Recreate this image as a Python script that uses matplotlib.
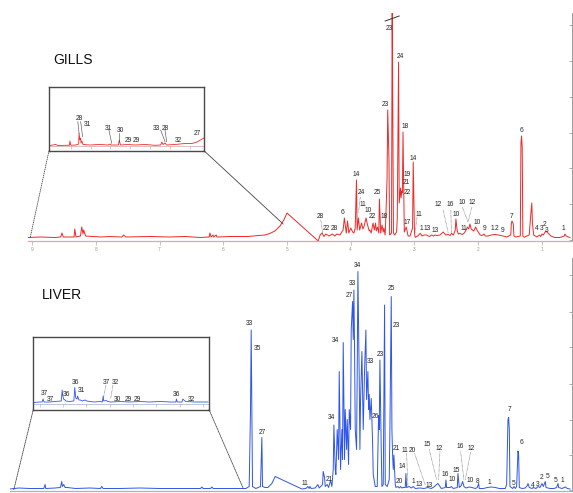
import matplotlib
matplotlib.use("Agg")
import matplotlib.pyplot as plt
from matplotlib.patches import ConnectionPatch

plt.rcParams['font.family'] = ['Liberation Sans', 'DejaVu Sans']

W, H = 573, 493

# ---------------- GILLS spectrum (ppm, intensity) ----------------
gills_ppm = [9.06, 8.87, 8.64, 8.55, 8.53, 8.51, 8.34, 8.33, 8.31, 8.24, 8.22, 8.20, 8.19, 8.16,
             7.93, 7.78, 7.59, 7.56, 7.53, 7.15, 6.84, 6.60, 6.36, 6.22, 6.21, 6.19, 6.16, 6.15,
             6.11, 6.10, 5.89, 5.61, 5.45, 5.35, 5.27, 5.19, 5.11, 5.05, 5.00, 4.51, 4.48, 4.45,
             4.42, 4.39, 4.34, 4.29, 4.25, 4.22, 4.17, 4.12, 4.10, 4.07, 4.05, 4.03, 4.00, 3.97,
             3.95, 3.93, 3.91, 3.90, 3.88, 3.86, 3.83, 3.81, 3.79, 3.76, 3.74, 3.71, 3.70, 3.68,
             3.65, 3.63, 3.61, 3.60, 3.58, 3.56, 3.55, 3.53, 3.51, 3.49, 3.48, 3.46, 3.45, 3.43,
             3.42, 3.40, 3.39, 3.36, 3.35, 3.33, 3.31, 3.28, 3.27, 3.25, 3.24, 3.22, 3.21, 3.20,
             3.19, 3.18, 3.16, 3.13, 3.10, 3.07, 3.03, 3.02, 3.00, 2.99, 2.95, 2.91, 2.88, 2.85,
             2.81, 2.77, 2.73, 2.70, 2.68, 2.65, 2.60, 2.55, 2.51, 2.47, 2.44, 2.42, 2.39, 2.36,
             2.35, 2.33, 2.31, 2.29, 2.25, 2.22, 2.19, 2.17, 2.15, 2.13, 2.11, 2.09, 2.07, 2.04,
             2.02, 2.00, 1.97, 1.94, 1.91, 1.89, 1.85, 1.80, 1.74, 1.68, 1.61, 1.55, 1.49, 1.48,
             1.47, 1.45, 1.44, 1.41, 1.34, 1.33, 1.32, 1.31, 1.30, 1.28, 1.24, 1.20, 1.18, 1.16,
             1.15, 1.13, 1.08, 1.04, 1.02, 1.00, 0.98, 0.94, 0.90, 0.86, 0.80, 0.72, 0.65, 0.64,
             0.62, 0.56]
gills_int = [0.5, 1, 0.5, 1, 5, 1, 1, 9, 1, 2, 11, 4, 8, 2,
             1, 1.5, 1, 3, 1, 1.5, 1, 1.5, 0.5, 1, 5, 1, 3, 1,
             3, 1, 1.5, 1.5, 2.5, 3, 4.5, 7, 12, 18, 25, -3, 3, 5,
             1.5, 4, 2, 4, 2, 4, 3, 8, 20, 5, 17, 5, 10, 6,
             5, 10, 58, 8, 20, 8, 15, 9, 12, 20, 14, 7, 8, 5,
             15, 8, 15, 7, 11, 5, 39, 5, 13, 6, 10, 3, 20, 60,
             128, 78, 3, 5, 240, 5, 3, 6, 20, 176, 35, 50, 40, 47,
             45, 106, 6, 11, 2, 2, 10, 76, 5, 0.7, 2, 4.7, 2, 3,
             3, 1.5, 3, 2, 3, 2.5, 3, 6, 3, 3.5, 2.5, 4.7, 3, 8,
             19, 7, 4, 4.7, 3.5, 5, 8, 11, 9, 14, 9, 8, 7, 11,
             8, 6, 3, 2.5, 4, 2, 2, 3, 3.5, 3, 2, 1, 3, 15,
             17, 14, 2, 1, 2, 95, 102, 90, 2, 0.7, 2, 3, 20, 35,
             15, 3, 1, 3, 1.5, 4, 3, 7, 4.7, 2, 0.5, 0.5, 2, 4,
             2, 0.3]
gills_yticks = [-2, 34, 70, 105, 141, 177, 213]
gills_xticks = [9, 8, 7, 6, 5, 4, 3, 2, 1]

gills_lab = ['23', '24', '23', '18', '14', '19', '21', '22', '14', '24', '11', '10', '22',
             '25', '18', '6', '28', '22', '28', '17', '11', '1', '13', '13', '12', '16', '10',
             '10', '12', '11', '10', '9', '1', '2', '9', '7', '6', '4', '3', '2', '3', '1']
gills_lab_ppm = [3.40, 3.22, 3.46, 3.15, 3.02, 3.12, 3.12, 3.11, 3.92, 3.84, 3.81, 3.73, 3.66,
                 3.58, 3.48, 4.13, 4.48, 4.39, 4.26, 3.12, 2.93, 2.90, 2.80, 2.67, 2.63, 2.44, 2.34,
                 2.25, 2.09, 2.23, 2.01, 1.90, 1.78, 1.71, 1.62, 1.48, 1.32, 1.08, 1.00, 0.96, 0.92, 0.66]
gills_lab_int = [210, 181, 134, 111, 80, 63, 55, 46, 64, 45, 33, 28, 22,
                 45, 21, 26, 21, 9, 9, 16, 23, 10, 9, 8, 34, 34, 24,
                 35, 36, 10, 16, 10, 9, 9, 8, 22, 107, 9, 10, 13, 8, 9]
gills_leaders = [(2.55, 28, 2.47, 5), (2.43, 28, 2.42, 5), (2.25, 31, 2.16, 16),
                 (2.10, 31, 2.16, 16), (2.96, 21, 2.99, 5), (3.85, 41, 3.88, 25),
                 (4.47, 18, 4.44, 5)]

# GILLS zoomed region (inset)
gz_ppm = [9.52, 9.38, 9.32, 9.03, 9.02, 9.00, 8.87, 8.80, 8.79, 8.77, 8.75, 8.74, 8.72, 8.69,
          8.52, 8.26, 8.06, 8.01, 7.99, 7.80, 7.78, 7.75, 7.56, 7.38, 7.13, 6.88, 6.74, 6.71,
          6.68, 6.63, 6.59, 6.38, 6.13, 5.95, 5.83, 5.74, 5.70, 5.65]
gz_int = [0.5, 1.5, 0.5, 0.8, 5, 0.8, 1, 2, 12.7, 6, 8, 3, 5, 1.5,
          1, 1.5, 1, 2, 1, 1, 6, 1, 1.5, 1, 1.5, 0.7, 1, 4,
          1.5, 3, 1, 1.5, 2.5, 2.5, 4, 6, 7, 8]
gz_ticks = [9.0, 8.5, 8.0, 7.5, 7.0, 6.5, 6.0]
gz_lab = ['28', '31', '31', '30', '29', '29', '33', '28', '32', '27']
gz_lab_ppm = [8.78, 8.58, 8.04, 7.75, 7.54, 7.34, 6.84, 6.62, 6.30, 5.81]
gz_lab_int = [27.7, 21, 17.7, 15, 6, 6, 17.7, 17.7, 5, 12.7]
gz_leaders = [(8.82, 24.3, 8.79, 12.7), (8.75, 24.3, 8.70, 9.3), (8.04, 16, 7.97, 2.7),
              (7.78, 12.7, 7.78, 4.3), (6.74, 16, 6.63, 4.3), (6.63, 16, 6.59, 4.3)]

# ---------------- LIVER spectrum ----------------
liver_ppm = [8.94, 8.80, 8.64, 8.46, 8.43, 8.41, 8.40, 8.26, 8.18, 8.16, 8.15, 8.13, 8.11, 8.08,
             7.95, 7.74, 7.58, 7.56, 7.54, 7.29, 6.99, 6.69, 6.39, 6.08, 6.06, 6.04, 5.93, 5.91,
             5.89, 5.64, 5.40, 5.35, 5.33, 5.32, 5.31, 5.30, 5.25, 5.18, 5.16, 5.15, 5.11, 5.07,
             5.01, 4.96, 4.56, 4.50, 4.47, 4.45, 4.44, 4.42, 4.36, 4.32, 4.30, 4.25, 4.24, 4.22,
             4.21, 4.18, 4.16, 4.13, 4.11, 4.09, 4.08, 4.06, 4.05, 4.03, 4.01, 4.00, 3.98, 3.96,
             3.95, 3.94, 3.92, 3.91, 3.89, 3.88, 3.86, 3.85, 3.83, 3.82, 3.80, 3.79, 3.78, 3.77,
             3.76, 3.74, 3.73, 3.72, 3.70, 3.69, 3.68, 3.66, 3.65, 3.64, 3.62, 3.60, 3.59, 3.57,
             3.56, 3.55, 3.54, 3.52, 3.50, 3.49, 3.46, 3.43, 3.41, 3.40, 3.39, 3.37, 3.36, 3.34,
             3.32, 3.31, 3.28, 3.25, 3.24, 3.22, 3.21, 3.20, 3.19, 3.18, 3.16, 3.15, 3.12, 3.10,
             3.08, 3.06, 3.04, 3.01, 3.00, 2.99, 2.95, 2.92, 2.89, 2.86, 2.79, 2.73, 2.67, 2.62,
             2.58, 2.54, 2.52, 2.50, 2.47, 2.41, 2.40, 2.39, 2.34, 2.32, 2.29, 2.23, 2.22, 2.20,
             2.17, 2.15, 2.13, 2.10, 2.05, 2.01, 1.96, 1.93, 1.91, 1.90, 1.84, 1.78, 1.72, 1.66,
             1.60, 1.51, 1.49, 1.47, 1.46, 1.45, 1.44, 1.40, 1.38, 1.36, 1.34, 1.32, 1.31, 1.30,
             1.26, 1.21, 1.18, 1.17, 1.15, 1.11, 1.09, 1.05, 1.02, 0.99, 0.96, 0.94, 0.91, 0.90,
             0.84, 0.78, 0.74, 0.72, 0.71, 0.66, 0.61, 0.58, 0.54]
liver_int = [0.5, 1.5, 1, 1, 1, 5, 1, 1.5, 2, 8, 3, 5, 2, 2,
             1, 1.5, 1, 3, 1, 1, 1.5, 1, 1, 1, 2.5, 1, 1, 2.5,
             1, 1, 1, 3, 80, 159.5, 80, 3, 1, 3, 52, 3, 2, 2,
             6, 13, 0.5, 1, 3, 1, 3, 1, 1.5, 5, 1.5, 5, 18, 12,
             3, 5, 2, 9, 3, 20, 64.5, 20, 15, 60, 30, 118, 20, 60,
             30, 147, 30, 80, 40, 70, 25, 80, 60, 160, 188, 150, 199.5, 140,
             60, 40, 120, 218, 110, 40, 90, 138, 100, 60, 120, 159.5, 90, 118,
             80, 95, 70, 91, 48, 15, 3, 3, 74, 60, 129.5, 40, 3, 5,
             184.5, 5, 3, 10, 60, 193, 60, 35, 20, 34.5, 5, 2, 3, 1.5,
             3, 1.5, 2, 2, 16, 2, 3, 1.5, 3, 1, 1.5, 1, 2, 1,
             2.5, 5, 6, 4, 1, 2, 9.5, 2, 2, 3, 1, 2, 16, 2,
             4, 8, 3, 1.5, 2.5, 2, 1, 2, 6, 1, 1, 2, 2.5, 2,
             1, 1, 5, 70, 72, 60, 3, 1, 3, 1, 3, 38.5, 35, 2,
             1, 1.5, 4, 6, 2, 1, 2, 1, 3, 2, 6, 3, 8, 2,
             1, 1, 2, 6, 2, 1, 2.5, 1, 0.5]
liver_yticks = [-0.5, 34.5, 69.5, 106, 143, 178, 214.5]

liver_lab = ['33', '35', '27', '11', '21', '34', '34', '27', '33', '34', '33', '23', '26',
             '25', '23', '21', '14', '11', '20', '20', '1', '13', '13', '15', '12', '16',
             '10', '15', '16', '12', '10', '8', '1', '7', '5', '6', '4', '3', '2', '5', '5', '1']
liver_lab_ppm = [5.34, 5.22, 5.16, 4.52, 4.15, 4.12, 4.06, 3.85, 3.80, 3.72, 3.53, 3.39, 3.46,
                 3.22, 3.15, 3.15, 3.05, 3.01, 2.90, 3.10, 2.89, 2.80, 2.65, 2.68, 2.50, 2.41,
                 2.31, 2.24, 2.18, 2.02, 2.04, 1.92, 1.75, 1.44, 1.39, 1.27, 1.10, 1.02, 0.96,
                 0.87, 0.75, 0.65]
liver_lab_int = [165.5, 140.5, 57, 6, 10, 72, 149, 194, 206, 224, 128, 135, 73,
                 201, 164, 41.5, 23, 39, 39, 8, 8, 5, 4, 45, 41.5, 15,
                 10, 19.5, 42.5, 41, 9, 8, 7, 80, 6, 47, 4, 5.5, 12,
                 13, 9.5, 8.5]
liver_leaders = [(2.99, 36.5, 2.97, 2.5), (2.87, 36, 2.71, 4.5), (2.65, 40, 2.54, 9.5),
                 (2.49, 38, 2.51, 9.5), (2.18, 38, 2.13, 9.5), (2.03, 37.5, 2.11, 9.5)]

# LIVER zoomed region (inset)
lz_ppm = [9.13, 9.00, 8.95, 8.93, 8.91, 8.79, 8.68, 8.54, 8.52, 8.51, 8.49, 8.46, 8.44, 8.37,
          8.27, 8.25, 8.23, 8.20, 8.19, 8.16, 8.13, 8.09, 8.03, 7.99, 7.93, 7.82, 7.71, 7.66,
          7.64, 7.63, 7.58, 7.54, 7.48, 7.28, 7.07, 6.85, 6.64, 6.42, 6.21, 6.08, 6.07, 6.05,
          5.95, 5.93, 5.91, 5.87, 5.67, 5.39]
lz_int = [0.5, 1, 1, 4, 1, 1, 1.5, 2, 13, 8, 4, 3, 2, 1.5,
          2, 15.5, 5, 4, 7, 3, 3, 2, 3, 2, 1.5, 1, 1.5, 1,
          7, 2, 2.5, 1.5, 1, 1.5, 1, 1.5, 1, 1.5, 1, 1, 4, 1,
          1, 4, 3, 1.5, 1, 1]
lz_ticks = [9.0, 8.5, 8.0, 7.5, 7.0, 6.5, 6.0, 5.5]
lz_lab = ['37', '37', '36', '36', '31', '37', '32', '30', '29', '29', '36', '32']
lz_lab_ppm = [8.91, 8.77, 8.42, 8.23, 8.10, 7.58, 7.37, 7.34, 7.11, 6.91, 6.06, 5.75]
lz_lab_int = [9.7, 3.7, 8.7, 21, 12.3, 21, 21, 3.7, 3.7, 3.7, 8, 3.7]
lz_leaders = [(7.58, 18, 7.63, 6.3), (7.43, 18, 7.48, 4.7)]

RED = '#f02828'
BLUE = '#2f55ea'
TXT = '#262626'
LAB_SIZE = 4.8

fig = plt.figure(figsize=(W / 100, H / 100), dpi=100)


def px_axes(l, t, r, b):
    return fig.add_axes([l / W, 1 - b / H, (r - l) / W, (b - t) / H])


def style_main(ax, yticks, axis_col):
    ax.patch.set_alpha(0)
    ax.spines['top'].set_visible(False)
    ax.spines['left'].set_visible(False)
    ax.spines['right'].set_color('#8c8c8c')
    ax.spines['right'].set_linewidth(0.6)
    ax.spines['bottom'].set_color(axis_col)
    ax.spines['bottom'].set_linewidth(0.9)
    ax.yaxis.tick_right()
    ax.set_yticks(yticks)
    ax.set_yticklabels([])
    ax.tick_params(axis='y', direction='in', length=2.5, width=0.5, colors='#8c8c8c')


def style_inset(ax):
    ax.patch.set_facecolor('white')
    for s in ax.spines.values():
        s.set_color('#4a4a4a')
        s.set_linewidth(1.0)
    ax.set_xticks([])
    ax.set_yticks([])


def put_labels(ax, labs, xs, ys, size):
    for t, x, y in zip(labs, xs, ys):
        ax.text(x, y, t, ha='center', va='center', fontsize=size, color=TXT)


def put_leaders(ax, segs, ls):
    for x1, y1, x2, y2 in segs:
        ax.plot([x1, x2], [y1, y2], color='#555555', lw=0.45, ls=ls)


# ---- GILLS main ----
ax1 = px_axes(28, 13, 572, 241)
ax1.plot(gills_ppm, gills_int, color=RED, lw=0.7)
ax1.set_xlim(9.063, 0.529)
ax1.set_ylim(-3, 225)
style_main(ax1, gills_yticks, '#e2a6a6')
ax1.set_xticks(gills_xticks)
ax1.set_xticklabels([str(v) for v in gills_xticks])
ax1.tick_params(axis='x', direction='out', length=3, width=0.4, colors='#9a9a9a',
                labelsize=3.5, pad=1)
put_labels(ax1, gills_lab, gills_lab_ppm, gills_lab_int, LAB_SIZE)
put_leaders(ax1, gills_leaders, (0, (1, 1)))
ax1.plot([3.46, 3.24], [217, 222], color='#333333', lw=0.7, clip_on=False)
fig.text(53 / W, 1 - 60 / H, 'GILLS', fontsize=10, ha='left', va='center', color='#111111')

# ---- GILLS inset ----
ins1 = px_axes(49, 86.7, 204, 150.7)
ins1.plot(gz_ppm, gz_int, color=RED, lw=0.6)
ins1.axhline(-0.3, color='#dcb4b4', lw=0.6)
ins1.vlines(gz_ticks, -2.7, -0.3, color='#aaaaaa', lw=0.4)
ins1.set_xlim(9.545, 5.651)
ins1.set_ylim(-4.7, 59.3)
style_inset(ins1)
put_labels(ins1, gz_lab, gz_lab_ppm, gz_lab_int, LAB_SIZE)
put_leaders(ins1, gz_leaders, '-')

# ---- LIVER main ----
ax2 = px_axes(10, 258, 572, 491)
ax2.plot(liver_ppm, liver_int, color=BLUE, lw=0.7)
ax2.set_xlim(8.936, 0.510)
ax2.set_ylim(-1.5, 231.5)
style_main(ax2, liver_yticks, '#a9b0c8')
ax2.set_xticks([])
put_labels(ax2, liver_lab, liver_lab_ppm, liver_lab_int, LAB_SIZE)
put_leaders(ax2, liver_leaders, (0, (1, 1)))
fig.text(42 / W, 1 - 295 / H, 'LIVER', fontsize=10, ha='left', va='center', color='#111111')

# ---- LIVER inset ----
ins2 = px_axes(33.3, 337, 209, 409.5)
ins2.plot(lz_ppm, lz_int, color=BLUE, lw=0.6)
ins2.axhline(-1, color='#b4bcd8', lw=0.6)
ins2.vlines(lz_ticks, -4, -1, color='#aaaaaa', lw=0.4)
ins2.set_xlim(9.14, 5.37)
ins2.set_ylim(-6.5, 66)
style_inset(ins2)
put_labels(ins2, lz_lab, lz_lab_ppm, lz_lab_int, LAB_SIZE)
put_leaders(ins2, lz_leaders, (0, (1, 1)))

# ---- zoom connectors ----
for ins, corner, ax, pt, ls in [
        (ins1, (0, 0), ax1, (9.03, 0), (0, (1, 1.5))),
        (ins1, (1, 0), ax1, (5.06, 14), '-'),
        (ins2, (0, 0), ax2, (8.88, -0.5), (0, (1, 1))),
        (ins2, (1, 0), ax2, (5.44, 1.2), (0, (1, 1)))]:
    con = ConnectionPatch(xyA=corner, coordsA=ins.transAxes, xyB=pt, coordsB=ax.transData,
                          color='#444444', lw=0.6, ls=ls)
    fig.add_artist(con)

fig.savefig('out.png', dpi=100)
